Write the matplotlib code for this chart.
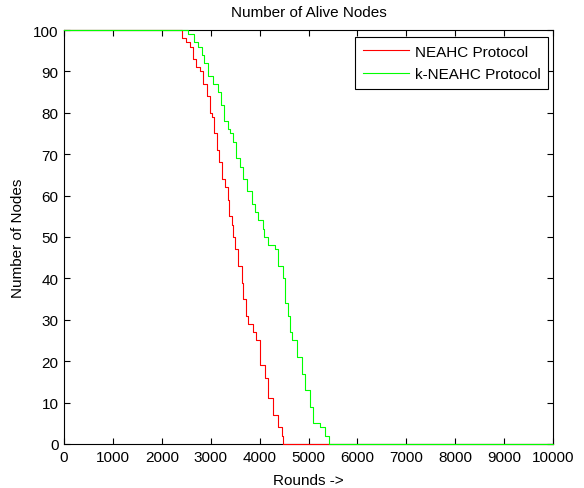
# Alive nodes vs rounds for NEAHC and k-NEAHC, redrawn in matplotlib.
import matplotlib
matplotlib.use('Agg')
from matplotlib import pyplot as plt

plt.rcParams['font.family'] = ['Liberation Sans', 'DejaVu Sans']
plt.rcParams['font.size'] = 11

# step points: (round, nodes alive from that round on)
neahc_rounds = [0, 2419, 2495, 2577, 2644, 2693, 2781, 2849, 2918, 2986, 3020,
                3067, 3122, 3176, 3225, 3292, 3347, 3374, 3429, 3462, 3497,
                3564, 3634, 3667, 3716, 3769, 3871, 3926, 4008, 4110, 4178,
                4280, 4383, 4452, 4472, 10000]
neahc_alive = [100, 98, 97, 96, 93, 91, 90, 87, 84, 80, 79,
               75, 71, 68, 64, 62, 59, 55, 53, 50, 47,
               43, 39, 35, 31, 29, 27, 25, 19, 16, 11,
               7, 4, 2, 0, 0]

kneahc_rounds = [0, 2542, 2665, 2740, 2816, 2869, 2951, 3053, 3143, 3211, 3279,
                 3360, 3395, 3462, 3517, 3599, 3654, 3736, 3838, 3906, 3974,
                 4076, 4090, 4178, 4315, 4383, 4485, 4519, 4574, 4622, 4656,
                 4759, 4861, 4928, 5031, 5098, 5235, 5337, 5426, 10000]
kneahc_alive = [100, 99, 97, 96, 94, 92, 89, 87, 85, 82, 78,
                76, 75, 73, 69, 67, 64, 61, 58, 56, 54,
                52, 50, 48, 47, 43, 40, 34, 31, 27, 25,
                21, 17, 13, 9, 5, 4, 2, 0, 0]

x_ticks = list(range(0, 10001, 1000))
y_ticks = list(range(0, 101, 10))

fig = plt.figure(figsize=(5.84, 4.89), dpi=100)
ax = fig.add_axes([0.1096, 0.09, 0.8374, 0.8466])

ax.plot(neahc_rounds, neahc_alive, color='#ff0000', lw=0.8,
        drawstyle='steps-post', label='NEAHC Protocol', zorder=3, clip_on=False)
ax.plot(kneahc_rounds, kneahc_alive, color='#00ff00', lw=0.8,
        drawstyle='steps-post', label='k-NEAHC Protocol', zorder=3, clip_on=False)

ax.set_xlim(0, 10000)
ax.set_ylim(0, 100)
ax.set_xticks(x_ticks)
ax.set_yticks(y_ticks)
ax.tick_params(direction='in', length=4, width=0.8, top=True, right=True,
               labelsize=11, colors='black', pad=4)
for sp in ax.spines.values():
    sp.set_linewidth(0.8)
    sp.set_color('black')

ax.set_title('Number of Alive Nodes', fontsize=11, pad=10)
ax.set_xlabel('Rounds ->', fontsize=11, labelpad=7)
ax.set_ylabel('Number of Nodes', fontsize=11, labelpad=6)

leg = ax.legend(loc='upper right', bbox_to_anchor=(0.99, 0.983),
                borderaxespad=0, fancybox=False, framealpha=1,
                edgecolor='black', fontsize=11, handlelength=3.0,
                handletextpad=0.4, borderpad=0.5, labelspacing=0.55)
leg.get_frame().set_linewidth(0.8)

fig.savefig('out.png', dpi=100)
